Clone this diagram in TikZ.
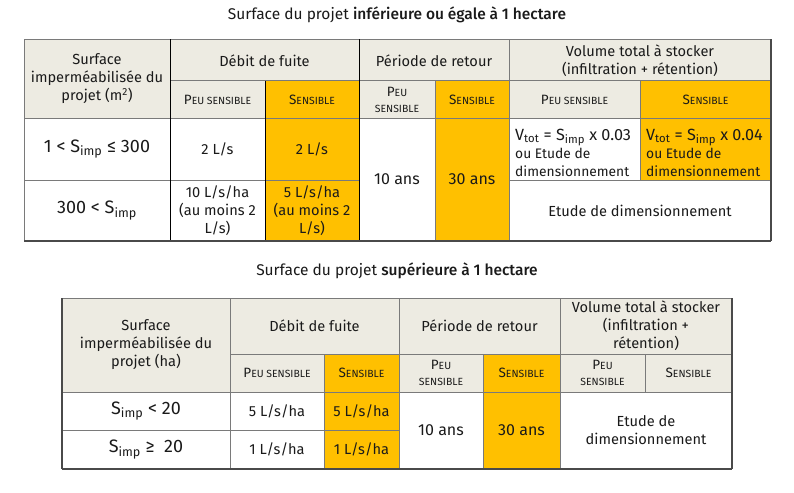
\documentclass[tikz,border=0pt]{standalone}
\usepackage{fontspec}
\setmainfont{Fira Sans}[BoldFont={Fira Sans Medium}]
\definecolor{beige}{HTML}{EDEBE2}
\definecolor{orng}{HTML}{FFC000}
\definecolor{textc}{HTML}{1A1A1A}
\definecolor{lgray}{HTML}{7A7A7A}
\definecolor{dgray}{HTML}{4A4A4A}
\newcommand\psc[2]{{\fontsize{13.5}{15}\selectfont #1}{\fontsize{10.4}{15}\selectfont #2}}
\newcommand\sbs[1]{\textsubscript{#1}}
\newcommand\cellbox[7]{%
  \fill[#6] (#2,#3) rectangle (#4,#5);
  \node[txt] (#1) at ({(#2+#4)/2},{(#3+#5)/2}) {#7};}
\tikzset{
  txt/.style={align=center, inner sep=0pt, text=textc, font=\fontsize{14.6}{18}\selectfont},
  vcell/.style={txt, align=left, anchor=west, font=\fontsize{13.8}{18.3}\selectfont},
  ttl/.style={inner sep=0pt, text=textc, font=\fontsize{15.5}{18}\selectfont},
  grid/.style={lgray, line width=1pt},
  blk/.style={black, line width=1pt},
  outer/.style={dgray, line width=1.2pt}
}
\begin{document}
\begin{tikzpicture}[x=1pt,y=-1pt]
\useasboundingbox (0,0) rectangle (794,492);
\fill[white] (0,0) rectangle (794,492);
% ---------- titles
\node[ttl] (t1) at (397,15) {Surface du projet \textbf{inférieure ou égale à 1 hectare}};
\node[ttl] (t2) at (397,271) {Surface du projet \textbf{supérieure à 1 hectare}};
% ---------- top table
\cellbox{a0}{24}{39.5}{170}{118}{beige}{Surface\\imperméabilisée du\\projet (m\textsuperscript{2})}
\cellbox{a1}{170}{39.5}{359}{81}{beige}{Débit de fuite}
\cellbox{a2}{359}{39.5}{509}{81}{beige}{Période de retour}
\cellbox{a3}{509}{39.5}{771}{81}{beige}{Volume total à stocker\\(infiltration + rétention)}
\cellbox{b1}{170}{81}{265}{118}{beige}{\psc{P}{EU SENSIBLE}}
\cellbox{b2}{265}{81}{359}{118}{orng}{\psc{S}{ENSIBLE}}
\cellbox{b3}{359}{81}{435}{118}{beige}{\psc{P}{EU}\\[-2pt]\psc{}{SENSIBLE}}
\cellbox{b4}{435}{81}{509}{118}{orng}{\psc{S}{ENSIBLE}}
\cellbox{b5}{509}{81}{640}{118}{beige}{\psc{P}{EU SENSIBLE}}
\cellbox{b6}{640}{81}{771}{118}{orng}{\psc{S}{ENSIBLE}}
\cellbox{c0}{24}{118}{170}{180}{white}{\fontsize{18}{20}\selectfont 1 < S\sbs{imp} ≤ 300}
\cellbox{c1}{170}{118}{265}{180}{white}{2 L/s}
\cellbox{c2}{265}{118}{359}{180}{orng}{2 L/s}
\cellbox{c3}{359}{118}{435}{241}{white}{\fontsize{16}{20}\selectfont 10 ans}
\cellbox{c4}{435}{118}{509}{241}{orng}{\fontsize{16}{20}\selectfont 30 ans}
\fill[white] (509,118) rectangle (640,180);
\node[vcell] (c5) at (515,153) {{\fontsize{16.2}{18}\selectfont V\sbs{tot} = S\sbs{imp} x 0.03}\\ou Etude de\\dimensionnement};
\fill[orng] (640,118) rectangle (771,180);
\node[vcell] (c6) at (646,153) {{\fontsize{16.2}{18}\selectfont V\sbs{tot} = S\sbs{imp} x 0.04}\\ou Etude de\\dimensionnement};
\cellbox{d0}{24}{180}{170}{241}{white}{\fontsize{18}{20}\selectfont 300 < S\sbs{imp}}
\cellbox{d1}{170}{180}{265}{241}{white}{10 L/s/ha\\(au moins 2\\L/s)}
\cellbox{d2}{265}{180}{359}{241}{orng}{5 L/s/ha\\(au moins 2\\L/s)}
\cellbox{d3}{509}{180}{771}{241}{white}{Etude de dimensionnement}
% lines
\draw[grid] (24,39.5) -- (771,39.5);
\draw[grid] (170,81) -- (771,81);
\draw[grid] (24,118) -- (771,118);
\draw[grid] (24,180) -- (359,180);
\draw[grid] (509,180) -- (771,180);
\draw[grid] (435,81) -- (435,241);
\draw[grid] (509,39.5) -- (509,241);
\draw[grid] (640,81) -- (640,180);
\draw[blk] (170,39.5) -- (170,241);
\draw[blk] (265,81) -- (265,241);
\draw[blk] (359,39.5) -- (359,241);
\draw[grid] (24,39.5) -- (24,241);
\draw[outer] (771,39.5) -- (771,241);
\draw[outer] (24,241) -- (771,241);
% ---------- bottom table
\cellbox{e0}{62}{298}{230}{392}{beige}{Surface\\imperméabilisée du\\projet (ha)}
\cellbox{e1}{230}{298}{399}{354}{beige}{Débit de fuite}
\cellbox{e2}{399}{298}{560}{354}{beige}{Période de retour}
\cellbox{e3}{560}{298}{732}{354}{beige}{Volume total à stocker\\(infiltration +\\rétention)}
\cellbox{f1}{230}{354}{324}{392}{beige}{\psc{P}{EU SENSIBLE}}
\cellbox{f2}{324}{354}{399}{392}{orng}{\psc{S}{ENSIBLE}}
\cellbox{f3}{399}{354}{483}{392}{beige}{\psc{P}{EU}\\[-2pt]\psc{}{SENSIBLE}}
\cellbox{f4}{483}{354}{560}{392}{orng}{\psc{S}{ENSIBLE}}
\cellbox{f5}{560}{354}{645}{392}{beige}{\psc{P}{EU}\\[-2pt]\psc{}{SENSIBLE}}
\cellbox{f6}{645}{354}{732}{392}{beige}{\psc{S}{ENSIBLE}}
\cellbox{g0}{62}{392}{230}{430}{white}{\fontsize{18}{20}\selectfont S\sbs{imp} < 20}
\cellbox{g1}{230}{392}{324}{430}{white}{5 L/s/ha}
\cellbox{g2}{324}{392}{399}{430}{orng}{5 L/s/ha}
\cellbox{g3}{399}{392}{483}{469}{white}{\fontsize{16}{20}\selectfont 10 ans}
\cellbox{g4}{483}{392}{560}{469}{orng}{\fontsize{16}{20}\selectfont 30 ans}
\cellbox{g5}{560}{392}{732}{469}{white}{Etude de\\dimensionnement}
\cellbox{h0}{62}{430}{230}{469}{white}{\fontsize{18}{20}\selectfont S\sbs{imp} ≥\ \ 20}
\cellbox{h1}{230}{430}{324}{469}{white}{1 L/s/ha}
\cellbox{h2}{324}{430}{399}{469}{orng}{1 L/s/ha}
\draw[grid] (62,298) -- (732,298);
\draw[grid] (230,354) -- (732,354);
\draw[grid] (62,392) -- (732,392);
\draw[grid] (62,430) -- (399,430);
\draw[grid] (230,298) -- (230,469);
\draw[grid] (324,354) -- (324,469);
\draw[grid] (399,298) -- (399,469);
\draw[grid] (483,354) -- (483,469);
\draw[grid] (560,298) -- (560,469);
\draw[grid] (645,354) -- (645,392);
\draw[outer] (62,298) -- (62,469);
\draw[outer] (732,298) -- (732,469);
\draw[outer] (62,469) -- (732,469);
\end{tikzpicture}
\end{document}
